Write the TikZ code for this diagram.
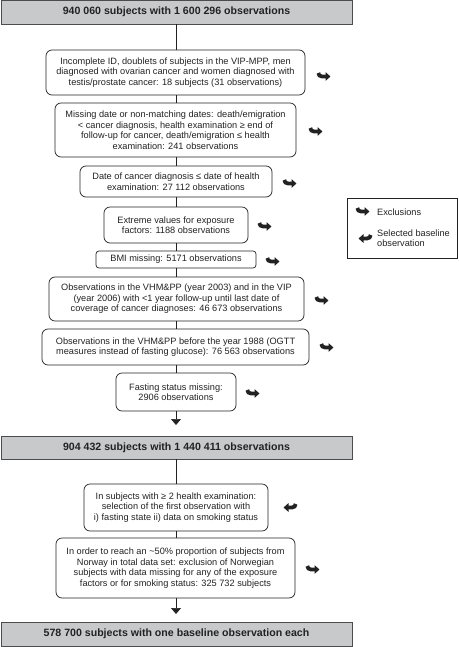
\documentclass[tikz,border=0pt]{standalone}
\usepackage{fontspec}
\setmainfont{Liberation Sans}
\usetikzlibrary{arrows.meta}
\definecolor{greybox}{HTML}{C8C9CB}
\definecolor{ink}{HTML}{222222}
\tikzset{
  stepbox/.style={draw=ink, line width=0.7pt, rounded corners=6pt, align=center, inner sep=0pt, font=\fontsize{9.2}{10.5}\selectfont, text=ink},
  headbox/.style={draw=black!70, line width=0.8pt, fill=greybox, align=center, inner sep=0pt, font=\fontsize{10.6}{12}\selectfont\bfseries, text=ink, minimum width=351pt},
  conn/.style={draw=ink, line width=0.7pt},
  connarr/.style={draw=ink, line width=0.7pt, -{Triangle[length=6pt,width=10pt]}},
  exarr/.pic={\draw[ink, line width=3.8pt, -{Triangle[length=5pt,width=8.5pt]}] (0.3,-2.5) to[out=-90,in=180] (4,1) -- (12.5,1);},
}
\begin{document}
\begin{tikzpicture}[x=1pt,y=-1pt]
\useasboundingbox (0,0) rectangle (458,647);
% header boxes
\node[headbox, minimum height=24pt] (h1) at (176.5,12) {940 060 subjects with 1 600 296 observations};
\node[headbox, minimum height=23pt] (h2) at (176.5,447.5) {904 432 subjects with 1 440 411 observations};
\node[headbox, minimum height=24pt] (h3) at (176.5,634) {578 700 subjects with one baseline observation each};
% step boxes
\node[stepbox, minimum width=259pt, minimum height=45pt] (b1) at (175.5,72.5) {Incomplete ID, doublets of subjects in the VIP-MPP, men\\diagnosed with ovarian cancer and women diagnosed with\\testis/prostate cancer: 18 subjects (31 observations)};
\node[stepbox, minimum width=241pt, minimum height=54pt] (b2) at (175.5,130) {Missing date or non-matching dates: death/emigration\\< cancer diagnosis, health examination ≥ end of\\follow-up for cancer, death/emigration ≤ health\\examination: 241 observations};
\node[stepbox, minimum width=192pt, minimum height=31pt] (b3) at (176,181.5) {Date of cancer diagnosis ≤ date of health\\examination: 27 112 observations};
\node[stepbox, minimum width=144pt, minimum height=36pt] (b4) at (176,225) {Extreme values for exposure\\factors: 1188 observations};
\node[stepbox, minimum width=160pt, minimum height=17pt, rounded corners=3pt] (b5) at (176,259.5) {BMI missing: 5171 observations};
\node[stepbox, minimum width=255pt, minimum height=44pt] (b6) at (176.5,299) {Observations in the VHM\&PP (year 2003) and in the VIP\\(year 2006) with <1 year follow-up until last date of\\coverage of cancer diagnoses: 46 673 observations};
\node[stepbox, minimum width=267pt, minimum height=36pt] (b7) at (175.5,347) {Observations in the VHM\&PP before the year 1988 (OGTT\\measures instead of fasting glucose): 76 563 observations};
\node[stepbox, minimum width=120pt, minimum height=38pt] (b8) at (176,392) {Fasting status missing:\\2906 observations};
\node[stepbox, minimum width=184pt, minimum height=47pt] (b9) at (176,507.5) {In subjects with ≥ 2 health examination:\\selection of the first observation with\\i) fasting state ii) data on smoking status};
\node[stepbox, minimum width=239pt, minimum height=60pt] (b10) at (175.5,568) {In order to reach an \textasciitilde50\% proportion of subjects from\\Norway in total data set: exclusion of Norwegian\\subjects with data missing for any of the exposure\\factors or for smoking status: 325 732 subjects};
% connectors
\draw[conn] (h1.south -| 176,0) -- (b1.north -| 176,0);
\draw[conn] (b1.south -| 176,0) -- (b2.north -| 176,0);
\draw[conn] (b2.south -| 176,0) -- (b3.north -| 176,0);
\draw[conn] (b3.south -| 176,0) -- (b4.north -| 176,0);
\draw[conn] (b4.south -| 176,0) -- (b5.north -| 176,0);
\draw[conn] (b5.south -| 176,0) -- (b6.north -| 176,0);
\draw[conn] (b6.south -| 176,0) -- (b7.north -| 176,0);
\draw[conn] (b7.south -| 176,0) -- (b8.north -| 176,0);
\draw[connarr] (b8.south) -- (176,425);
\draw[conn] (h2.south -| 176,0) -- (b9.north -| 176,0);
\draw[conn] (b9.south -| 176,0) -- (b10.north -| 176,0);
\draw[connarr] (b10.south -| 176,0) -- (176,614);
% exclusion arrows
\pic at (318,75.5) {exarr};
\pic at (310,130.5) {exarr};
\pic at (284,182.5) {exarr};
\pic at (259,225.5) {exarr};
\pic at (267,260.5) {exarr};
\pic at (316,299.5) {exarr};
\pic at (321,346.5) {exarr};
\pic at (247,392.5) {exarr};
\pic[xscale=-1] at (296,506.5) {exarr};
\pic at (307,568.5) {exarr};
% legend
\node[draw=ink, line width=0.7pt, minimum width=110pt, minimum height=60pt, inner sep=0pt] (leg) at (402,228) {};
\pic at (357,210.5) {exarr};
\pic[xscale=-1] at (371,237.5) {exarr};
\node[anchor=west, inner sep=0pt, font=\fontsize{9.2}{10.5}\selectfont, text=ink] (l1) at (377,212) {Exclusions};
\node[anchor=west, inner sep=0pt, font=\fontsize{9.2}{10.5}\selectfont, text=ink, align=left] (l2) at (377,238) {Selected baseline\\observation};
\end{tikzpicture}
\end{document}
